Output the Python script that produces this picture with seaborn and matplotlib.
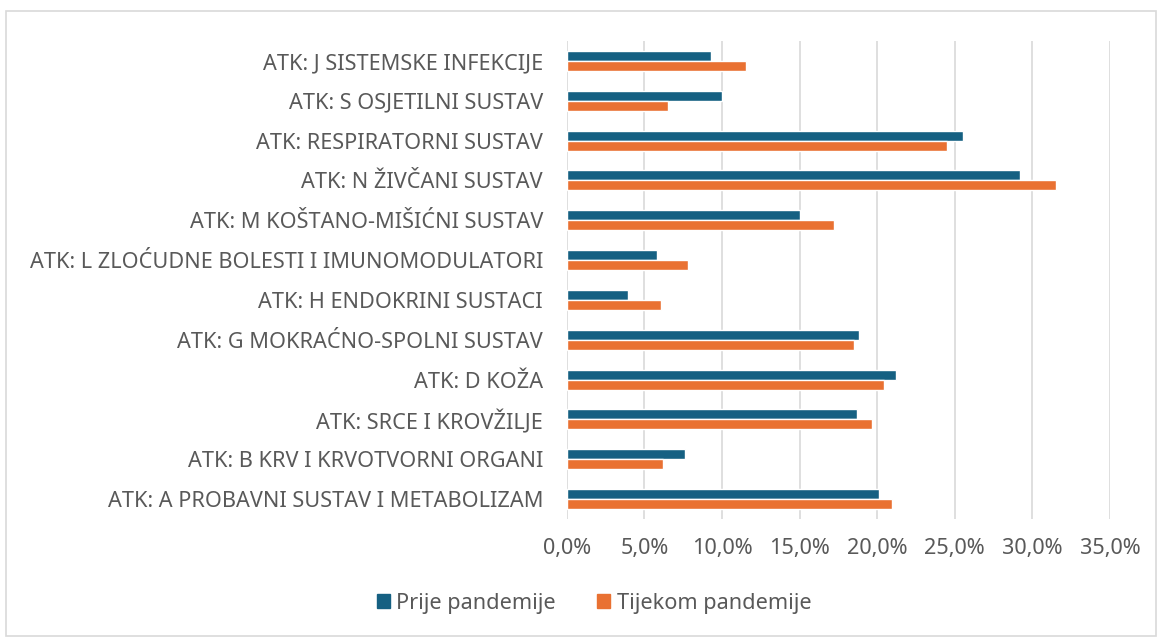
import matplotlib
matplotlib.use("Agg")
import matplotlib.pyplot as plt
import seaborn as sns
import pandas as pd
from matplotlib.ticker import FuncFormatter
from matplotlib.patches import Rectangle

categories = [
    "ATK: J SISTEMSKE INFEKCIJE",
    "ATK: S OSJETILNI SUSTAV",
    "ATK: RESPIRATORNI SUSTAV",
    "ATK: N ŽIVČANI SUSTAV",
    "ATK: M KOŠTANO-MIŠIĆNI SUSTAV",
    "ATK: L ZLOĆUDNE BOLESTI I IMUNOMODULATORI",
    "ATK: H ENDOKRINI SUSTACI",
    "ATK: G MOKRAĆNO-SPOLNI SUSTAV",
    "ATK: D KOŽA",
    "ATK: SRCE I KROVŽILJE",
    "ATK: B KRV I KRVOTVORNI ORGANI",
    "ATK: A PROBAVNI SUSTAV I METABOLIZAM",
]
prije = [9.3, 10.0, 25.5, 29.2, 15.0, 5.8, 3.95, 18.8, 21.2, 18.7, 7.6, 20.1]
tijekom = [11.55, 6.5, 24.5, 31.55, 17.2, 7.8, 6.1, 18.5, 20.45, 19.65, 6.2, 20.95]
series = ["Prije pandemije", "Tijekom pandemije"]
colors = ["#156082", "#E97132"]
xticks = [0, 5, 10, 15, 20, 25, 30, 35]

df = pd.DataFrame({
    "cat": categories * 2,
    "val": prije + tijekom,
    "ser": [series[0]] * len(categories) + [series[1]] * len(categories),
})

sns.set_theme(style="white")
plt.rcParams["font.family"] = ["Noto Sans", "DejaVu Sans"]
text_col = "#595959"
fs = 15.6

fig = plt.figure(figsize=(11.59, 6.37), dpi=100)
ax = fig.add_axes([566.7 / 1159, 1 - 519 / 637, (1110 - 566.7) / 1159, (519 - 41) / 637])

sns.barplot(data=df, y="cat", x="val", hue="ser", order=categories,
            hue_order=series, palette=colors, orient="h", width=0.5,
            saturation=1, ax=ax, legend=False, errorbar=None)

ax.set_xlim(0, 35)
ax.set_xticks(xticks)
ax.xaxis.set_major_formatter(FuncFormatter(lambda v, p: f"{v:.1f}%".replace(".", ",")))
ax.grid(axis="x", color="#d9d9d9", linewidth=1.2)
ax.set_axisbelow(True)
for s in ax.spines.values():
    s.set_visible(False)
ax.set_xlabel("")
ax.set_ylabel("")
ax.tick_params(axis="both", length=0, colors=text_col, labelsize=fs)
ax.tick_params(axis="y", pad=17)
ax.tick_params(axis="x", pad=14)

handles = [Rectangle((0, 0), 1, 1, color=c) for c in colors]
fig.legend(handles, series, loc="center", bbox_to_anchor=(594 / 1159, 1 - 603 / 637),
           ncol=2, frameon=False, fontsize=fs, labelcolor=text_col,
           handlelength=0.6, handleheight=0.6, handletextpad=0.3, columnspacing=1.9)

fig.patches.append(Rectangle((6 / 1159, 1 / 637), 1150 / 1159, (637 - 12) / 637,
                             transform=fig.transFigure, fill=False,
                             edgecolor="#d9d9d9", linewidth=1.2))

fig.savefig("out.png", dpi=100)
